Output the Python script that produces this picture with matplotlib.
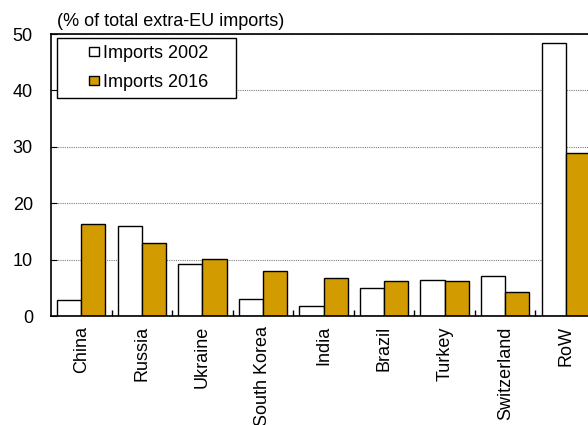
import numpy as np
import matplotlib.pyplot as plt
from matplotlib.patches import Rectangle
from matplotlib.container import BarContainer
from matplotlib.legend_handler import HandlerPatch, update_from_first_child

# Data (% of total extra-EU imports)
countries = ["China", "Russia", "Ukraine", "South Korea", "India",
             "Brazil", "Turkey", "Switzerland", "RoW"]
imports_2002 = [2.9, 16.1, 9.3, 3.1, 1.9, 5.0, 6.5, 7.2, 48.4]
imports_2016 = [16.3, 13.0, 10.1, 8.1, 6.9, 6.2, 6.2, 4.3, 29.0]

plt.rcParams['font.family'] = ['Liberation Sans', 'DejaVu Sans']
FS = 13

fig = plt.figure(figsize=(5.88, 4.25), dpi=100)
# axes runs past the right edge like the original
ax = fig.add_axes([0.0867, 0.2553, 0.927, 0.6647])

x = np.arange(len(countries))
w = 0.4
ax.bar(x - w / 2, imports_2002, w, color="white", edgecolor="black",
       linewidth=1, label="Imports 2002")
ax.bar(x + w / 2, imports_2016, w, color="#D29B00", edgecolor="black",
       linewidth=1, label="Imports 2016")

ax.set_xlim(-0.5, len(countries) - 0.5)
ax.set_ylim(0, 50)
ax.set_yticks([0, 10, 20, 30, 40, 50])
ax.set_xticks(x)
ax.set_xticklabels(countries, rotation=90, fontsize=FS)
ax.set_xticks(np.arange(0.5, len(countries) - 0.5, 1), minor=True)
ax.tick_params(axis="x", which="major", length=0, pad=7)
ax.tick_params(axis="x", which="minor", direction="in", length=4, width=1)
ax.tick_params(axis="y", direction="in", length=4, labelsize=FS, pad=13)

ax.set_axisbelow(True)
ax.yaxis.grid(True, linestyle=(0, (1, 1)), color="gray", linewidth=0.8)
for s in ax.spines.values():
    s.set_linewidth(1.2)

ax.text(0.011, 1.015, "(% of total extra-EU imports)", transform=ax.transAxes,
        fontsize=FS, ha="left", va="bottom")


# small square handle pushed to the right end of the handle box
def small_square(legend, orig_handle, xdescent, ydescent, width, height, fontsize):
    s = 0.5 * fontsize
    return Rectangle((-xdescent + width - s, -ydescent + (height - s) / 2), s, s)


sq = HandlerPatch(patch_func=small_square, update_func=update_from_first_child)
leg = ax.legend(loc="upper left", bbox_to_anchor=(0.011, 0.5, 0.328, 0.486),
                mode="expand", borderaxespad=0, fontsize=FS,
                handlelength=1.9, handleheight=0.7, handletextpad=0.25,
                handler_map={BarContainer: sq},
                fancybox=False, framealpha=1, edgecolor="black",
                borderpad=0.4, labelspacing=0.65)
leg.get_frame().set_linewidth(1)

plt.savefig("out.png", dpi=100)
plt.close()
